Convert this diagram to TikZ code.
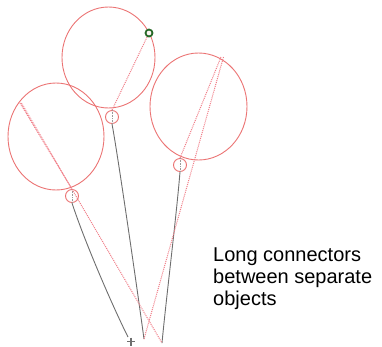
\documentclass[tikz,border=0pt]{standalone}
\usepackage{fontspec}
\setmainfont{Liberation Sans}
\usetikzlibrary{shapes.geometric}
\definecolor{balloonred}{RGB}{235,115,115}
\definecolor{linkred}{RGB}{240,125,135}
\definecolor{stringgray}{RGB}{110,110,110}
\definecolor{handlegreen}{RGB}{40,105,40}

\tikzset{
  balloon/.style={draw=balloonred, ellipse, inner sep=0pt, line width=0.9pt},
  tie/.style={draw=balloonred, circle, minimum size=13pt, inner sep=0pt, line width=0.9pt},
  link/.style={draw=linkred, densely dotted, line width=1pt},
  cord/.style={draw=stringgray, line width=0.9pt},
}

\begin{document}
\begin{tikzpicture}[x=1pt, y=-1pt]
\useasboundingbox (0,0) rectangle (382,346);
% balloons
\node[balloon, minimum width=93pt, minimum height=101pt] (topb) at (108.5,57.5) {};
\node[balloon, minimum width=96pt, minimum height=107pt] (leftb) at (56,136.5) {};
\node[balloon, minimum width=97pt, minimum height=107pt] (rightb) at (198.5,106.5) {};
% ties
\node[tie] (topt) at (112,117) {};
\node[tie] (leftt) at (72,196) {};
\node[tie] (rightt) at (180,165) {};
\coordinate (leftp) at (20,103);
\coordinate (rightp) at (221,57);
\coordinate (tope) at (144,339);
\coordinate (lefte) at (128,337);
\coordinate (righte) at (162,343);
% strings
\draw[cord] (topt.south) .. controls (117,150) and (136,280) .. (tope);
\draw[cord] (leftt.south) .. controls (84,240) and (112,305) .. (lefte);
\draw[cord] (rightt.south) .. controls (176,220) and (166,300) .. (righte);
\foreach \t in {topt,leftt,rightt}
  \draw[stringgray!70, densely dotted, line width=0.6pt] (\t.north) -- (\t.south);
% long connectors
\draw[link] (leftp) -- (leftt.north);
\draw[link] ([xshift=1.5pt]leftp) -- (righte);
\draw[link] (rightp) -- (rightt.north);
\draw[link] ([xshift=2.5pt]rightp) -- (tope);
\node[circle, draw=handlegreen, fill=white!85!pink, line width=1.8pt, minimum size=7pt, inner sep=0pt] (topg) at (149,33) {};
\draw[link] (topg) -- (topt.north);
% cursor
\draw[stringgray, line width=1.4pt] (127,341.5) -- (135,341.5) (131,337.5) -- (131,346);
\node[anchor=north west, inner sep=0pt, align=left, font=\fontsize{20}{21.8}\selectfont] (caption) at (213,247.5) {Long connectors\\between separate\\objects};
\end{tikzpicture}
\end{document}
